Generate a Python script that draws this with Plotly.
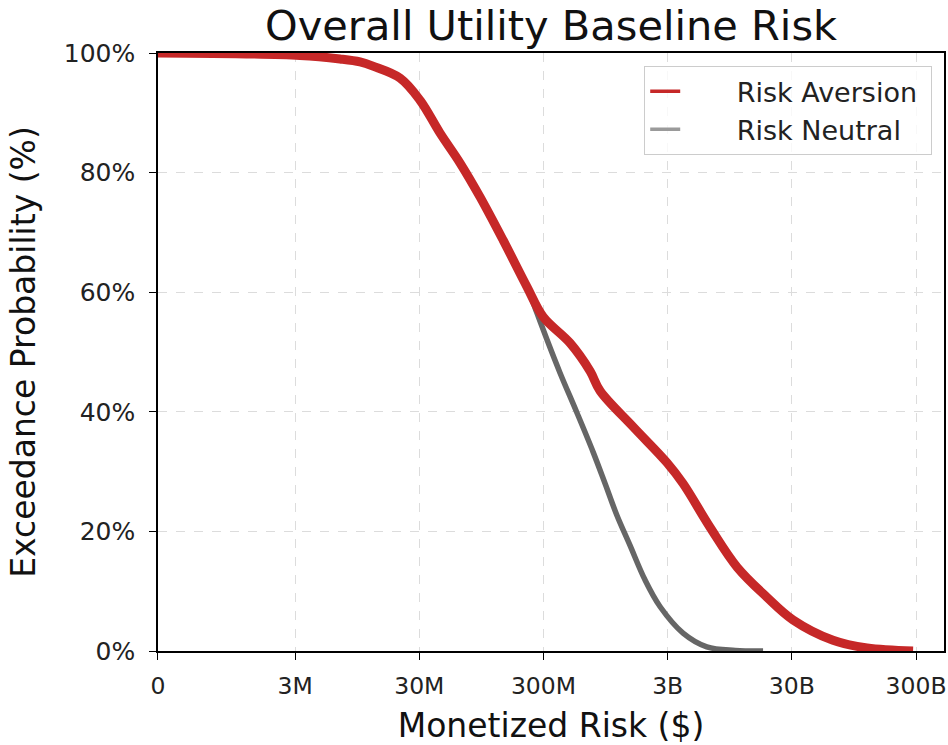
import plotly.graph_objects as go

# Monetized risk ($) and exceedance probability (%)
risk_aversion_x = [2.36e5, 3.29e6, 6.9e6, 1.0e7, 1.27e7, 2.1e7, 3.04e7, 4.41e7, 6.39e7, 9.27e7,
                   1.42e8, 2.21e8, 2.98e8, 4.91e8, 7.12e8, 8.57e8, 1.58e9, 2.96e9,
                   3.99e9, 6.58e9, 1.09e10, 1.89e10, 3.07e10, 6.44e10, 1.21e11, 2.84e11]
risk_aversion_y = [100.0, 99.6, 99.0, 98.5, 97.8, 95.8, 92.1, 86.6, 81.6, 75.9,
                   68.7, 60.9, 55.9, 51.5, 46.8, 43.5, 37.5, 31.5,
                   28.0, 20.7, 14.0, 9.0, 5.2, 1.8, 0.5, 0.0]

risk_neutral_x = [2.36e5, 3.29e6, 6.9e6, 1.0e7, 1.27e7, 2.1e7, 3.04e7, 4.41e7, 6.39e7, 9.27e7,
                  1.42e8, 2.21e8, 2.66e8, 3.21e8, 4.08e8, 5.59e8, 7.52e8, 9.4e8, 1.17e9,
                  1.49e9, 1.97e9, 2.61e9, 3.99e9, 6.2e9, 1.05e10, 1.76e10]
risk_neutral_y = [100.0, 99.6, 99.0, 98.5, 97.8, 95.8, 92.1, 86.6, 81.6, 75.9,
                  68.7, 60.9, 56.5, 52.0, 46.5, 39.8, 33.3, 28.0, 22.7,
                  17.7, 11.9, 7.4, 3.0, 0.7, 0.1, 0.0]

x_tick_vals = [2.36e5, 3e6, 3e7, 3e8, 3e9, 3e10, 3e11]
x_tick_text = ["0", "3M", "30M", "300M", "3B", "30B", "300B"]
y_tick_vals = [0, 20, 40, 60, 80, 100]
y_tick_text = ["0%", "20%", "40%", "60%", "80%", "100%"]

RED = "#c62828"
GRAY = "#666666"
FONT = "DejaVu Sans"
PAD = "\u00a0" * 6

fig = go.Figure()
fig.add_trace(go.Scatter(x=risk_neutral_x, y=risk_neutral_y, mode="lines",
                         line=dict(color=GRAY, width=5.5, shape="spline", smoothing=1.0),
                         showlegend=False))
fig.add_trace(go.Scatter(x=risk_aversion_x, y=risk_aversion_y, mode="lines",
                         line=dict(color=RED, width=9, shape="spline", smoothing=1.0),
                         showlegend=False))
# legend entries
fig.add_trace(go.Scatter(x=[None], y=[None], mode="lines", name=PAD + "Risk Aversion\u00a0",
                         line=dict(color=RED, width=3.5)))
fig.add_trace(go.Scatter(x=[None], y=[None], mode="lines", name=PAD + "Risk Neutral",
                         line=dict(color="#9a9a9a", width=3.5)))

axis_common = dict(showline=True, linecolor="black", linewidth=1.5, mirror=True,
                   ticks="outside", ticklen=7, tickwidth=1.3, tickcolor="black",
                   showgrid=True, gridcolor="#dcdcdc", griddash="dash", gridwidth=1,
                   zeroline=False, automargin=False)

fig.update_layout(
    width=948, height=745,
    paper_bgcolor="white", plot_bgcolor="white",
    margin=dict(l=158, r=4, t=53, b=94),
    font=dict(family=FONT, color="#222222"),
    title=dict(text="Overall Utility Baseline Risk", x=0.5813, xanchor="center",
               y=0.966, yanchor="middle", font=dict(size=41.5, color="#111111", family=FONT),
               automargin=False),
    xaxis=dict(type="log", range=[5.373, 6.477 + (944 - 295) / 124.2],
               tickvals=x_tick_vals, ticktext=x_tick_text, ticklabelstandoff=6,
               tickfont=dict(size=23.5, color="#222222", family=FONT),
               title=dict(text="Monetized Risk ($)", font=dict(size=33, family=FONT, color="#111111"),
                          standoff=18),
               **axis_common),
    yaxis=dict(range=[0, 100], tickvals=y_tick_vals, ticktext=y_tick_text, ticklabelstandoff=9,
               tickfont=dict(size=25, color="#222222", family=FONT),
               title=dict(text="Exceedance Probability (%)", font=dict(size=33, family=FONT, color="#111111"),
                          standoff=18),
               **axis_common),
    legend=dict(x=0.985, xanchor="right", y=0.978, yanchor="top",
                bgcolor="rgba(255,255,255,0.8)", bordercolor="#cccccc", borderwidth=1,
                font=dict(size=27, family=FONT, color="#222222")),
)

fig.write_html("out.html", config={"displayModeBar": False},
               post_script="document.body.style.margin='0';document.body.style.overflow='hidden';")
